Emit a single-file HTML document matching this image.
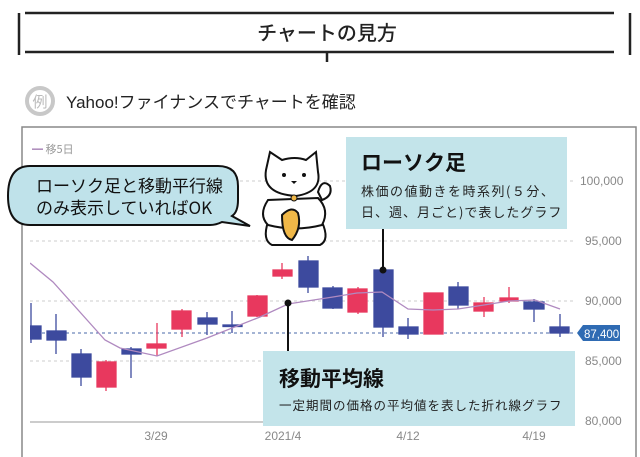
<!DOCTYPE html>
<html><head><meta charset="utf-8"><style>
body{margin:0;width:640px;height:457px;background:#fff;overflow:hidden;font-family:"Liberation Sans","Noto Sans CJK JP",sans-serif;}
</style></head><body>
<svg width="640" height="457" viewBox="0 0 640 457" xmlns="http://www.w3.org/2000/svg" style="position:absolute;left:0;top:0">
<line x1="25" y1="13" x2="614" y2="13" stroke="#222" stroke-width="2.5"/>
<line x1="25" y1="52" x2="614" y2="52" stroke="#222" stroke-width="2.5"/>
<line x1="19" y1="13" x2="19" y2="55" stroke="#222" stroke-width="2.5"/>
<line x1="630" y1="13" x2="630" y2="55" stroke="#222" stroke-width="2.5"/>
<line x1="327" y1="52" x2="327" y2="62" stroke="#222" stroke-width="2.5"/>
<text x="327" y="40" font-size="20" font-weight="500" text-anchor="middle" fill="#222" font-family="Noto Sans CJK JP,sans-serif">チャートの見方</text>
<circle cx="40" cy="101" r="13" fill="none" stroke="#c8c8c8" stroke-width="4"/>
<text x="40" y="107" font-size="15" text-anchor="middle" fill="#bbb" font-family="Noto Sans CJK JP,sans-serif">例</text>
<text x="66" y="108" font-size="17" fill="#222" font-family="Liberation Sans,Noto Sans CJK JP,sans-serif">Yahoo!ファイナンスでチャートを確認</text>
<path d="M22 457 V127 H636 V457" fill="none" stroke="#888" stroke-width="1.5"/>
<text x="32" y="153" font-size="11" fill="#999" font-family="Noto Sans CJK JP,sans-serif"><tspan fill="#a07ab0">━</tspan> 移5日</text>
<g stroke="#ccc" stroke-dasharray="3,3" stroke-width="1">
<line x1="30" y1="181" x2="575" y2="181"/>
<line x1="30" y1="241" x2="575" y2="241"/>
<line x1="30" y1="301" x2="575" y2="301"/>
<line x1="30" y1="361" x2="575" y2="361"/>
</g>
<line x1="30" y1="333" x2="575" y2="333" stroke="#4a6aa8" stroke-dasharray="3,3" stroke-width="1"/>
<line x1="30" y1="422" x2="575" y2="422" stroke="#999" stroke-width="1"/>
<g font-size="12" fill="#888" font-family="Liberation Sans,sans-serif">
<text x="580" y="185">100,000</text><text x="585" y="245">95,000</text><text x="585" y="305">90,000</text><text x="585" y="365">85,000</text><text x="585" y="425">80,000</text>
<text x="156" y="440" text-anchor="middle">3/29</text><text x="283" y="440" text-anchor="middle">2021/4</text><text x="408" y="440" text-anchor="middle">4/12</text><text x="534" y="440" text-anchor="middle">4/19</text>
</g>
<path d="M577 333 L583 325 H620 V341 H583 Z" fill="#2f6bb3"/>
<text x="584" y="338" font-size="11.5" fill="#fff" font-family="Liberation Sans,sans-serif">87,400</text>
<defs><clipPath id="c"><rect x="30" y="130" width="550" height="292"/></clipPath></defs>
<g clip-path="url(#c)" stroke-width="1.3">
<g stroke="#3d4a9e" fill="#3d4a9e">
<line x1="31" y1="303" x2="31" y2="343"/><rect x="22" y="326" width="19" height="13"/>
<line x1="56" y1="314" x2="56" y2="354"/><rect x="47" y="331" width="19" height="9"/>
<line x1="81" y1="349" x2="81" y2="386"/><rect x="72" y="354" width="19" height="23"/>
<line x1="131" y1="347" x2="131" y2="378"/><rect x="122" y="349" width="19" height="5"/>
<line x1="207" y1="312" x2="207" y2="335"/><rect x="198" y="318" width="19" height="6"/>
<line x1="232" y1="311" x2="232" y2="333"/><rect x="223" y="325" width="19" height="1.5"/>
<line x1="308" y1="256" x2="308" y2="293"/><rect x="299" y="261" width="19" height="26"/>
<line x1="333" y1="286" x2="333" y2="309"/><rect x="323" y="288" width="19" height="20"/>
<line x1="383" y1="268" x2="383" y2="337"/><rect x="374" y="270" width="19" height="57"/>
<line x1="408" y1="318" x2="408" y2="339"/><rect x="399" y="327" width="19" height="7"/>
<line x1="458" y1="282" x2="458" y2="309"/><rect x="449" y="287" width="19" height="18"/>
<line x1="534" y1="299" x2="534" y2="322"/><rect x="524" y="302" width="20" height="7"/>
<line x1="560" y1="314" x2="560" y2="337"/><rect x="550" y="327" width="19" height="6"/>
</g>
<g stroke="#e8385e" fill="#e8385e">
<line x1="106" y1="360" x2="106" y2="391"/><rect x="97" y="362" width="19" height="25"/>
<line x1="157" y1="323" x2="157" y2="356"/><rect x="147" y="344" width="19" height="4"/>
<line x1="182" y1="309" x2="182" y2="337"/><rect x="172" y="311" width="19" height="18"/>
<line x1="257" y1="295" x2="257" y2="317"/><rect x="248" y="296" width="19" height="20"/>
<line x1="282" y1="263" x2="282" y2="279"/><rect x="273" y="270" width="19" height="6"/>
<line x1="358" y1="287" x2="358" y2="314"/><rect x="348" y="289" width="19" height="23"/>
<rect x="424" y="293" width="19" height="41"/>
<line x1="484" y1="297" x2="484" y2="317"/><rect x="474" y="303" width="19" height="8"/>
<line x1="509" y1="287" x2="509" y2="303"/><rect x="500" y="298" width="18" height="3"/>
</g>
<polyline fill="none" stroke="#b08ac0" stroke-width="1.3" points="30,263 53,282 105,340 120,348 157,356 207,338 260,317 288,304 320,299 333,297 357,293 382,292 408,309 433,310 458,309 484,305 509,301 535,300 560,309"/>
</g>
<line x1="383" y1="228" x2="383" y2="270" stroke="#111" stroke-width="2"/>
<circle cx="383" cy="270" r="3.5" fill="#111"/>
<rect x="346" y="137" width="221" height="92" fill="#c3e4ea"/>
<text x="361" y="170" font-size="21" font-weight="bold" fill="#111" font-family="Noto Sans CJK JP,sans-serif">ローソク足</text>
<text x="361" y="196" font-size="13" fill="#222" font-family="Noto Sans CJK JP,sans-serif" letter-spacing="1.5">株価の値動きを時系列(５分、</text>
<text x="361" y="217" font-size="13" fill="#222" font-family="Noto Sans CJK JP,sans-serif" letter-spacing="1">日、週、月ごと)で表したグラフ</text>
<line x1="288" y1="303" x2="288" y2="351" stroke="#111" stroke-width="2"/>
<circle cx="288" cy="303" r="3.5" fill="#111"/>
<rect x="263" y="351" width="312" height="75" fill="#c3e4ea"/>
<text x="279" y="386" font-size="21" font-weight="bold" fill="#111" font-family="Noto Sans CJK JP,sans-serif">移動平均線</text>
<text x="279" y="410" font-size="12.5" fill="#222" font-family="Noto Sans CJK JP,sans-serif" letter-spacing="1">一定期間の価格の平均値を表した折れ線グラフ</text>
<path d="M30 166 H218 Q238 166 238 186 V200 Q238 212 232 216 L250 226 L222 222 Q216 225 210 225 H30 Q8 225 8 196 Q8 166 30 166 Z" fill="#bfe2ea" stroke="#111" stroke-width="2"/>
<text x="36" y="192" font-size="17" fill="#111" font-family="Noto Sans CJK JP,sans-serif">ローソク足と移動平行線</text>
<text x="36" y="214" font-size="17" fill="#111" font-family="Noto Sans CJK JP,sans-serif">のみ表示していればOK</text>
<g stroke="#111" stroke-width="2" fill="#fff">
<path d="M268 222 Q262 240 272 245 H320 Q330 240 322 222 Z"/>
<path d="M268 200 Q258 215 268 225 Q295 232 322 225 Q330 210 318 198 Z"/>
<path d="M318 192 Q322 178 330 186 Q333 196 322 200 Z"/>
<path d="M266 170 L270 152 L282 160 Q295 156 306 160 L316 152 L318 172 Q322 192 296 196 Q262 194 266 170 Z"/>
<path d="M282 215 Q292 205 298 213 Q302 228 292 240 Q282 238 282 215 Z" fill="#f0b848"/>
</g>
<circle cx="284" cy="175" r="2" fill="#111"/><circle cx="304" cy="175" r="2" fill="#111"/>
<path d="M291 181 h6 l-3 3 z" fill="#111"/>
<circle cx="294" cy="198" r="3" fill="#f0b848" stroke="#111"/>
</svg>
</body></html>
